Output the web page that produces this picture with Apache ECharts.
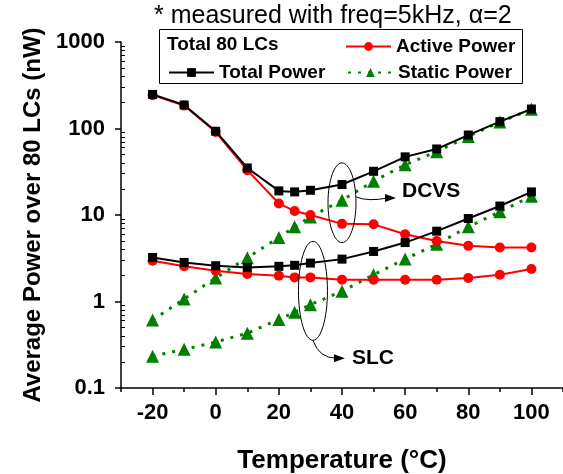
<!DOCTYPE html>
<html>
<head>
<meta charset="utf-8">
<script src="https://cdn.jsdelivr.net/npm/echarts@6/dist/echarts.min.js"></script>
<style>
  html, body { margin: 0; padding: 0; background: #fff; }
  #chart { width: 563px; height: 474px; }
</style>
</head>
<body>
<div id="chart"></div>
<script>
// temperatures (°C)
var temps = [-20, -10, 0, 10, 20, 25, 30, 40, 50, 60, 70, 80, 90, 100];

// DCVS (nW)
var dcvsTotal  = [248, 187, 93, 35, 19, 18.5, 19.3, 22.5, 32, 47, 58, 84, 120, 168];
var dcvsActive = [243, 184, 91, 33, 13.6, 11.1, 10, 7.9, 7.8, 6.0, 5.0, 4.4, 4.2, 4.2];
var dcvsStatic = [0.61, 1.07, 1.87, 3.2, 5.5, 7.3, 9.5, 14.8, 24.6, 38, 54, 81, 119, 167];

// SLC (nW)
var slcTotal  = [3.23, 2.83, 2.59, 2.48, 2.55, 2.62, 2.78, 3.09, 3.79, 4.8, 6.5, 9.1, 12.7, 18.5];
var slcActive = [2.96, 2.55, 2.27, 2.08, 1.99, 1.9, 1.9, 1.79, 1.78, 1.78, 1.78, 1.87, 2.04, 2.38];
var slcStatic = [0.233, 0.28, 0.34, 0.43, 0.62, 0.75, 0.92, 1.31, 2.04, 3.1, 4.6, 7.3, 10.9, 16.5];

// axis ticks
var xTickLabels = [-20, 0, 20, 40, 60, 80, 100];
var yMinorTicks = [0.2, 0.3, 0.4, 0.5, 0.6, 0.7, 0.8, 0.9,
                   2, 3, 4, 5, 6, 7, 8, 9,
                   20, 30, 40, 50, 60, 70, 80, 90,
                   200, 300, 400, 500, 600, 700, 800, 900];

var FONT = 'Liberation Sans, Arial, sans-serif';

function pairs(ys) {
  return temps.map(function (t, i) { return [t, ys[i]]; });
}

var totalStyle = {
  type: 'line', name: 'Total Power', symbol: 'rect', symbolSize: 9,
  itemStyle: { color: '#000' }, lineStyle: { color: '#000', width: 2 }, z: 4
};
var activeStyle = {
  type: 'line', name: 'Active Power', symbol: 'circle', symbolSize: 10,
  itemStyle: { color: '#ff0000' }, lineStyle: { color: '#ff0000', width: 2 }, z: 3
};
var staticStyle = {
  type: 'line', name: 'Static Power', symbol: 'triangle', symbolSize: 13,
  itemStyle: { color: '#008000' }, lineStyle: { color: '#008000', width: 3, type: [3, 7] }, z: 2
};

function mk(base, data) {
  return Object.assign({}, base, { data: pairs(data), animation: false });
}

var legendText = { fontFamily: FONT, fontWeight: 'bold', fontSize: 19, color: '#000' };
function legendAt(name, left, top) {
  return {
    data: [name], left: left, top: top, padding: 0,
    itemWidth: 45, itemHeight: 11, selectedMode: false,
    textStyle: legendText
  };
}

var chart = echarts.init(document.getElementById('chart'));
chart.setOption({
  backgroundColor: '#fff',
  animation: false,
  title: {
    text: '* measured with freq=5kHz, α=2',
    left: 154, top: 4, padding: 0,
    textStyle: { fontFamily: FONT, fontWeight: 'normal', fontSize: 25, color: '#000' }
  },
  legend: [
    legendAt('Active Power', 345, 37),
    legendAt('Total Power', 168, 63),
    legendAt('Static Power', 347, 63)
  ],
  grid: { left: 121, right: 0, top: 42, bottom: 86, outerBoundsMode: 'none', containLabel: false },
  xAxis: [{
    type: 'value', min: -30, max: 110, interval: 10,
    name: 'Temperature (°C)', nameLocation: 'middle', nameGap: 60,
    nameTextStyle: { fontFamily: FONT, fontWeight: 'bold', fontSize: 26, color: '#000' },
    axisLine: { onZero: false, lineStyle: { color: '#000', width: 1.5 } },
    axisTick: { length: 4, lineStyle: { color: '#000', width: 1.5 } },
    axisLabel: {
      customValues: xTickLabels, margin: 14,
      fontFamily: FONT, fontWeight: 'bold', fontSize: 22, color: '#000'
    },
    splitLine: { show: false }
  }, {
    type: 'value', min: -30, max: 110, position: 'bottom',
    axisLine: { show: false, onZero: false },
    axisTick: { customValues: xTickLabels, length: 7, lineStyle: { color: '#000', width: 1.5 } },
    axisLabel: { show: false },
    splitLine: { show: false }
  }],
  yAxis: [{
    type: 'log', min: 0.1, max: 1000, logBase: 10,
    name: 'Average Power over 80 LCs (nW)', nameLocation: 'middle', nameGap: 76,
    nameTextStyle: { fontFamily: FONT, fontWeight: 'bold', fontSize: 24, color: '#000' },
    axisLine: { show: true, onZero: false, lineStyle: { color: '#000', width: 1.5 } },
    axisTick: { length: 6, lineStyle: { color: '#000', width: 1.5 } },
    axisLabel: {
      margin: 16, fontFamily: FONT, fontWeight: 'bold', fontSize: 22, color: '#000',
      formatter: function (v) { return String(+Number(v).toPrecision(3)); }
    },
    splitLine: { show: false }
  }, {
    // minor ticks (2..9 per decade) drawn inside, on the exponent scale
    type: 'value', min: -1, max: 3, position: 'left',
    axisLine: { show: false, onZero: false },
    axisTick: { inside: true, customValues: yMinorTicks.map(Math.log10), length: 4,
                lineStyle: { color: '#000', width: 1 } },
    axisLabel: { show: false },
    splitLine: { show: false }
  }],
  series: [
    mk(staticStyle, dcvsStatic),
    mk(staticStyle, slcStatic),
    mk(activeStyle, dcvsActive),
    mk(activeStyle, slcActive),
    mk(totalStyle, dcvsTotal),
    mk(totalStyle, slcTotal)
  ]
});

// annotations placed through the chart's own scales
function px(t, v) { return chart.convertToPixel({ xAxisIndex: 0, yAxisIndex: 0 }, [t, v]); }

var dTop = px(40, 40), dBot = px(40, 4.8), dMid = px(40, 13.8);
var sTop = px(30.8, 4.96), sBot = px(30.8, 0.356), sMid = px(30.8, 1.34);

var dRx = 14, sRx = 14.5;
var dStart = [dMid[0] + dRx, dMid[1] - 6];
var dEnd = [dStart[0] + 40, dStart[1] + 1];
var sStart = [sBot[0], sBot[1]];
var sEnd = [sStart[0] + 32, sStart[1] + 18];

chart.setOption({
  graphic: [
    { type: 'rect', shape: { x: 159.5, y: 29.5, width: 363, height: 54 },
      style: { fill: 'none', stroke: '#000', lineWidth: 1 }, z: 10 },
    { type: 'text', x: 167, y: 45,
      style: { text: 'Total 80 LCs', fill: '#000', font: 'bold 19px ' + FONT, textVerticalAlign: 'middle' }, z: 10 },
    { type: 'ellipse', shape: { cx: dMid[0], cy: (dTop[1] + dBot[1]) / 2, rx: dRx, ry: (dBot[1] - dTop[1]) / 2 },
      style: { fill: 'none', stroke: '#000', lineWidth: 1 }, z: 10 },
    { type: 'ellipse', shape: { cx: sMid[0], cy: (sTop[1] + sBot[1]) / 2, rx: sRx, ry: (sBot[1] - sTop[1]) / 2 },
      style: { fill: 'none', stroke: '#000', lineWidth: 1 }, z: 10 },
    { type: 'bezierCurve',
      shape: { x1: dStart[0], y1: dStart[1], x2: dEnd[0] - 8, y2: dEnd[1],
               cpx1: dStart[0] + 12, cpy1: dStart[1] + 5 },
      style: { fill: 'none', stroke: '#000', lineWidth: 1 }, z: 10 },
    { type: 'polygon',
      shape: { points: [[dEnd[0], dEnd[1]], [dEnd[0] - 11, dEnd[1] - 4], [dEnd[0] - 11, dEnd[1] + 4]] },
      style: { fill: '#000' }, z: 10 },
    { type: 'bezierCurve',
      shape: { x1: sStart[0], y1: sStart[1], x2: sEnd[0] - 8, y2: sEnd[1],
               cpx1: sStart[0] + 6, cpy1: sEnd[1] },
      style: { fill: 'none', stroke: '#000', lineWidth: 1 }, z: 10 },
    { type: 'polygon',
      shape: { points: [[sEnd[0], sEnd[1]], [sEnd[0] - 11, sEnd[1] - 4], [sEnd[0] - 11, sEnd[1] + 4]] },
      style: { fill: '#000' }, z: 10 },
    { type: 'text', x: dEnd[0] + 6, y: dEnd[1] - 7,
      style: { text: 'DCVS', fill: '#000', font: 'bold 21px ' + FONT, textVerticalAlign: 'middle' }, z: 10 },
    { type: 'text', x: sEnd[0] + 7, y: sEnd[1],
      style: { text: 'SLC', fill: '#000', font: 'bold 21px ' + FONT, textVerticalAlign: 'middle' }, z: 10 }
  ]
});
</script>
</body>
</html>
